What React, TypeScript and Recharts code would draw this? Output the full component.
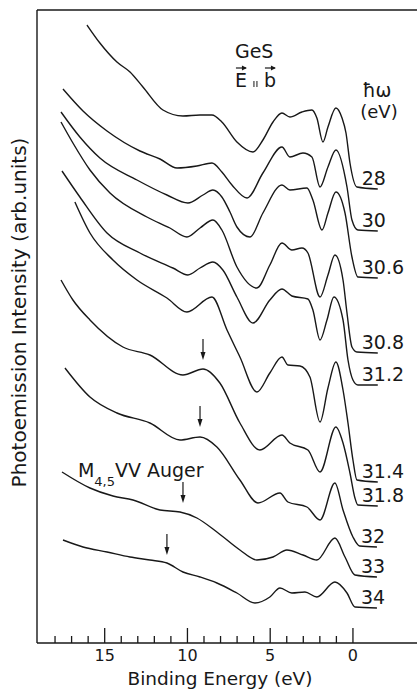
import { LineChart, Line, XAxis, YAxis, ReferenceLine, ReferenceDot } from "recharts"

type Pt = [number, number]

// photon energies (eV), top curve first
const photonEnergies = ["28", "30", "30.6", "30.8", "31.2", "31.4", "31.8", "32", "33", "34"]

// [binding energy (eV), intensity (arb. units, offset per spectrum)]
const hv28: Pt[] = [
  [16.07, 618], [15.29, 600], [14.26, 581], [13.47, 571], [12.69, 556], [11.48, 533],
  [10.27, 527], [9.24, 528], [8.52, 528], [7.92, 521], [7.01, 501], [6.04, 491],
  [5.44, 503], [4.83, 521], [4.29, 530], [3.81, 526], [3.08, 531], [2.48, 533],
  [2.18, 525], [1.81, 501], [1.51, 516], [1.03, 535], [0.66, 525], [0.42, 510],
  [0.18, 480], [-0.24, 456], [-1.5, 454],
]
const hv30: Pt[] = [
  [17.52, 554], [16.31, 532], [14.86, 512], [12.87, 492], [11.66, 484], [10.63, 475],
  [9.43, 477], [8.52, 480], [7.92, 471], [7.31, 458], [6.4, 445], [5.44, 470],
  [4.29, 496], [3.81, 486], [3.02, 490], [2.48, 486], [1.99, 456], [1.51, 476],
  [1.03, 493], [0.36, 456], [0.06, 423], [-0.3, 413], [-1.5, 412],
]
const hv306: Pt[] = [
  [17.64, 531], [16.5, 506], [15.29, 485], [13.05, 463], [11.24, 448], [9.97, 440],
  [9.06, 448], [8.46, 453], [7.92, 446], [7.43, 431], [7.01, 416], [6.22, 406],
  [5.44, 430], [4.29, 458], [3.81, 453], [2.78, 455], [2.42, 443], [1.87, 413],
  [1.51, 430], [1.03, 451], [0.48, 430], [0.06, 386], [-0.3, 366], [-1.5, 365],
]
const hv308: Pt[] = [
  [17.64, 521], [16.92, 500], [15.89, 473], [14.68, 450], [12.45, 426], [11.06, 415],
  [10.03, 406], [9.24, 415], [8.46, 423], [7.92, 413], [7.01, 376], [5.8, 355],
  [5.02, 378], [4.29, 400], [3.69, 393], [3.08, 395], [2.72, 390], [1.99, 346],
  [1.51, 368], [1.09, 388], [0.6, 363], [0.36, 330], [0.06, 296], [-0.24, 291],
  [-1.5, 290],
]
const hv312: Pt[] = [
  [17.58, 472], [16.5, 446], [14.86, 410], [12.87, 390], [10.88, 375], [9.97, 368],
  [9.24, 375], [8.46, 381], [7.86, 373], [7.01, 346], [6.04, 320], [5.02, 343],
  [4.29, 354], [3.69, 347], [2.72, 344], [2.42, 333], [1.99, 303], [1.57, 323],
  [1.15, 346], [0.6, 323], [0.3, 283], [0, 263], [-0.3, 258], [-1.5, 258],
]
const hv314: Pt[] = [
  [16.8, 441], [15.89, 410], [14.5, 383], [13.05, 363], [11.24, 345], [10.03, 331],
  [8.52, 346], [7.61, 313], [6.83, 286], [5.8, 251], [5.02, 270], [4.29, 286],
  [3.93, 278], [3.2, 277], [2.6, 266], [1.99, 221], [1.51, 255], [1.03, 281],
  [0.6, 253], [0.3, 220], [0, 183], [-0.24, 163], [-1.5, 161],
]
const hv318: Pt[] = [
  [17.64, 363], [16.92, 343], [15.89, 323], [13.9, 296], [12.27, 288], [10.27, 268],
  [9.06, 274], [8.04, 260], [6.83, 220], [5.62, 193], [4.29, 208], [3.81, 200],
  [2.72, 193], [1.99, 171], [1.03, 216], [0.6, 200], [0.18, 170], [-0.12, 145],
  [-0.3, 138], [-1.5, 137],
]
const hv32: Pt[] = [
  [17.4, 275], [15.89, 246], [14.26, 230], [12.27, 220], [10.45, 203], [9.24, 206],
  [8.22, 196], [6.83, 163], [5.74, 140], [4.41, 150], [3.93, 141], [2.78, 136],
  [1.99, 123], [1.09, 160], [0.6, 133], [0, 106], [-0.4, 97], [-1.45, 96],
]
const hv33: Pt[] = [
  [17.58, 171], [15.89, 155], [14.5, 147], [13.29, 143], [11.66, 133], [10.45, 131],
  [9.43, 125], [8.22, 111], [6.83, 93], [5.8, 83], [4.83, 86], [3.99, 93],
  [3.02, 88], [2.18, 83], [1.09, 105], [0.48, 86], [-0.12, 68], [-1.45, 66],
]
const hv34: Pt[] = [
  [17.52, 103], [16.31, 96], [14.86, 91], [13.47, 86], [12.27, 83], [11.24, 80],
  [10.27, 71], [9.24, 66], [8.22, 60], [7.01, 50], [5.92, 40], [5.02, 46],
  [4.41, 55], [3.69, 50], [2.9, 51], [2.18, 46], [1.09, 61], [0.36, 50],
  [-0.12, 36], [-1.45, 35],
]

const spectraPts = [hv28, hv30, hv306, hv308, hv312, hv314, hv318, hv32, hv33, hv34]

// M4,5VV Auger feature markers (arrow tips)
const augerArrows: Pt[] = [[9.06, 283], [9.24, 216], [10.27, 140], [11.24, 88]]

const energyTicks = [0, 1, 2, 3, 4, 5, 6, 7, 8, 9, 10, 11, 12, 13, 14, 15, 16, 17, 18]

const INK = "#181818"
const FONT = "'DejaVu Sans', sans-serif"

function EnergyTick(props: any) {
  const { x, y, payload } = props
  const major = payload.value % 5 === 0
  return (
    <g>
      <line x1={x} x2={x} y1={y} y2={y - (major ? 15 : 7)} stroke={INK} strokeWidth={1.3} />
      {major && (
        <text x={x} y={y + 18} textAnchor="middle" fontSize={16} fill={INK} fontFamily={FONT}>
          {payload.value}
        </text>
      )}
    </g>
  )
}

const xLabel = (p: any) => {
  const vb = p.viewBox
  return (
    <text x={vb.x + vb.width / 2 - 7} y={vb.y + 42} textAnchor="middle" fontSize={18.5} fill={INK} fontFamily={FONT}>
      Binding Energy (eV)
    </text>
  )
}

const yLabel = (p: any) => {
  const vb = p.viewBox
  const cx = 26
  const cy = vb.y + vb.height / 2 - 14
  return (
    <text x={cx} y={cy} transform={`rotate(-90, ${cx}, ${cy})`} textAnchor="middle" fontSize={20} fill={INK} fontFamily={FONT}>
      Photoemission Intensity (arb.units)
    </text>
  )
}

const endLabel = (text: string) => (p: any) => (
  <text x={p.cx - 16} y={p.cy - 4} fontSize={19} fill={INK} fontFamily={FONT}>
    {text}
  </text>
)

const arrowDown = (p: any) => {
  const { cx, cy } = p
  return (
    <g>
      <line x1={cx} x2={cx} y1={cy - 21} y2={cy - 3} stroke={INK} strokeWidth={1.2} />
      <path d={`M${cx - 2.5},${cy - 8} L${cx},${cy} L${cx + 2.5},${cy - 8} Z`} fill={INK} />
    </g>
  )
}

const vecArrow = (x: number, y: number, w: number) => (
  <g>
    <line x1={x} x2={x + w} y1={y} y2={y} stroke={INK} strokeWidth={1.2} />
    <path d={`M${x + w - 4},${y - 2.5} L${x + w + 1},${y} L${x + w - 4},${y + 2.5} Z`} fill={INK} />
  </g>
)

const titleShape = (p: any) => {
  const { cx, cy } = p
  return (
    <g fill={INK} fontFamily={FONT}>
      <text x={cx} y={cy} fontSize={19}>GeS</text>
      <text x={cx} y={cy + 29} fontSize={19}>E</text>
      {vecArrow(cx + 1, cy + 10, 10)}
      <line x1={cx + 19} x2={cx + 19} y1={cy + 23} y2={cy + 29} stroke={INK} strokeWidth={1} />
      <line x1={cx + 22} x2={cx + 22} y1={cy + 23} y2={cy + 29} stroke={INK} strokeWidth={1} />
      <text x={cx + 29} y={cy + 29} fontSize={19}>b</text>
      {vecArrow(cx + 30, cy + 10, 10)}
    </g>
  )
}

const hwShape = (p: any) => (
  <g fill={INK} fontFamily={FONT} textAnchor="middle">
    <text x={p.cx} y={p.cy} fontSize={19}>ħω</text>
    <text x={p.cx + 2} y={p.cy + 21} fontSize={18}>(eV)</text>
  </g>
)

const augerShape = (p: any) => (
  <text x={p.cx} y={p.cy} fontSize={19} fill={INK} fontFamily={FONT}>
    M<tspan dy={9} fontSize={13}>4,5</tspan>
    <tspan dy={-9}>VV Auger</tspan>
  </text>
)

export default function App() {
  return (
    <div style={{ position: "absolute", left: 0, top: 0, width: 417, height: 690, background: "#fff", fontFamily: FONT }}>
      <LineChart width={417} height={690} margin={{ top: 10, right: 0, bottom: 0, left: 0 }}>
        <XAxis
          type="number"
          dataKey="e"
          domain={[-3.87, 19.09]}
          reversed
          allowDataOverflow
          ticks={energyTicks}
          interval={0}
          tickSize={0}
          tickMargin={0}
          tickLine={false}
          tick={EnergyTick}
          height={47}
          axisLine={{ stroke: INK, strokeWidth: 1.4 }}
          label={{ content: xLabel }}
        />
        <YAxis
          type="number"
          domain={[0, 633]}
          allowDataOverflow
          width={37}
          tick={false}
          tickLine={false}
          axisLine={{ stroke: INK, strokeWidth: 1.4 }}
          label={{ content: yLabel }}
        />
        <ReferenceLine y={633} stroke={INK} strokeWidth={1.4} />
        {spectraPts.map((pts, i) => (
          <Line
            key={photonEnergies[i]}
            data={pts.map(([e, v]) => ({ e, v }))}
            dataKey="v"
            type="monotone"
            stroke={INK}
            strokeWidth={1.4}
            dot={false}
            activeDot={false}
            isAnimationActive={false}
          />
        ))}
        {spectraPts.map((pts, i) => {
          const last = pts[pts.length - 1]
          return <ReferenceDot key={"lbl" + i} x={last[0]} y={last[1]} shape={endLabel(photonEnergies[i])} />
        })}
        {augerArrows.map(([e, v]) => (
          <ReferenceDot key={"arr" + e} x={e} y={v} shape={arrowDown} />
        ))}
        <ReferenceDot x={7.13} y={585} shape={titleShape} />
        <ReferenceDot x={-1.45} y={546} shape={hwShape} />
        <ReferenceDot x={16.62} y={166} shape={augerShape} />
      </LineChart>
    </div>
  )
}
